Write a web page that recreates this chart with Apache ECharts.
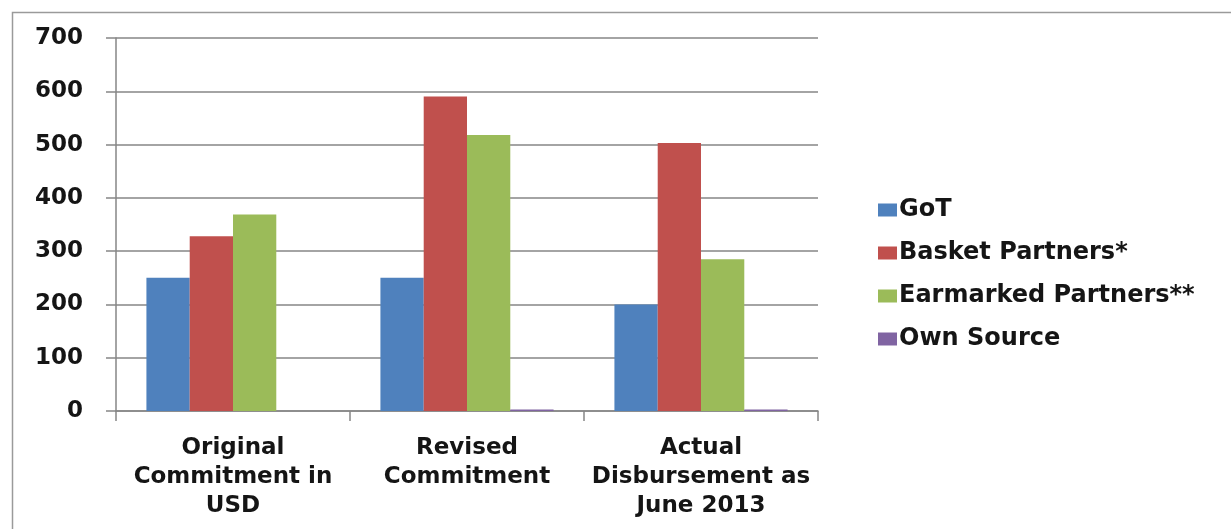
<!DOCTYPE html>
<html>
<head>
<meta charset="utf-8">
<script src="https://cdn.jsdelivr.net/npm/echarts@6/dist/echarts.min.js"></script>
<style>
  html, body { margin: 0; padding: 0; background: #fff; }
  #chart { width: 1231px; height: 529px; }
</style>
</head>
<body>
<div id="chart"></div>
<script>
const categories = ['Original\nCommitment in\nUSD', 'Revised\nCommitment', 'Actual\nDisbursement as\nJune 2013'];
const seriesNames = ['GoT', 'Basket Partners*', 'Earmarked Partners**', 'Own Source'];
const gotValues = [250, 250, 200];
const basketValues = [328, 590, 503];
const earmarkedValues = [369, 518, 285];
const ownSourceValues = [0, 3, 3];
const colors = ['#4F81BD', '#C0504D', '#9BBB59', '#8064A2'];

const chart = echarts.init(document.getElementById('chart'));
const textFont = '"DejaVu Sans", sans-serif';

const makeSeries = (name, data, color) => ({
  name: name,
  type: 'bar',
  data: data,
  barGap: '0%',
  barCategoryGap: '26%',
  itemStyle: { color: color },
});

chart.setOption({
  animation: false,
  graphic: [
    {
      // outer frame of the pasted chart (right/bottom edges fall off the picture)
      type: 'rect',
      shape: { x: 12.5, y: 12.5, width: 1240, height: 540 },
      style: { fill: 'none', stroke: '#9a9a9a', lineWidth: 1.5 },
    },
  ],
  legend: {
    orient: 'vertical',
    left: 873,
    top: 193,
    itemWidth: 19,
    itemHeight: 13,
    itemGap: 19,
    icon: 'rect',
    data: seriesNames,
    textStyle: {
      fontFamily: textFont,
      fontSize: 24,
      fontWeight: 'bold',
      color: '#151515',
      padding: [0, 0, 0, -3],
    },
  },
  grid: {
    left: 116,
    right: 413,
    top: 38,
    bottom: 118,
  },
  xAxis: {
    type: 'category',
    data: categories,
    axisLine: { lineStyle: { color: '#868686', width: 1.5 } },
    axisTick: { show: true, length: 10, lineStyle: { color: '#868686', width: 1.5 } },
    axisLabel: {
      margin: 23,
      interval: 0,
      fontFamily: textFont,
      fontSize: 23,
      fontWeight: 'bold',
      lineHeight: 29,
      color: '#151515',
    },
  },
  yAxis: {
    type: 'value',
    min: 0,
    max: 700,
    interval: 100,
    axisLine: { show: true, lineStyle: { color: '#868686', width: 1.5 } },
    axisTick: { show: true, length: 10, lineStyle: { color: '#868686', width: 1.5 } },
    splitLine: { lineStyle: { color: '#868686', width: 1.5 } },
    axisLabel: {
      margin: 33,
      fontFamily: textFont,
      fontSize: 23,
      fontWeight: 'bold',
      color: '#151515',
    },
  },
  series: [
    makeSeries(seriesNames[0], gotValues, colors[0]),
    makeSeries(seriesNames[1], basketValues, colors[1]),
    makeSeries(seriesNames[2], earmarkedValues, colors[2]),
    makeSeries(seriesNames[3], ownSourceValues, colors[3]),
  ],
});
</script>
</body>
</html>
